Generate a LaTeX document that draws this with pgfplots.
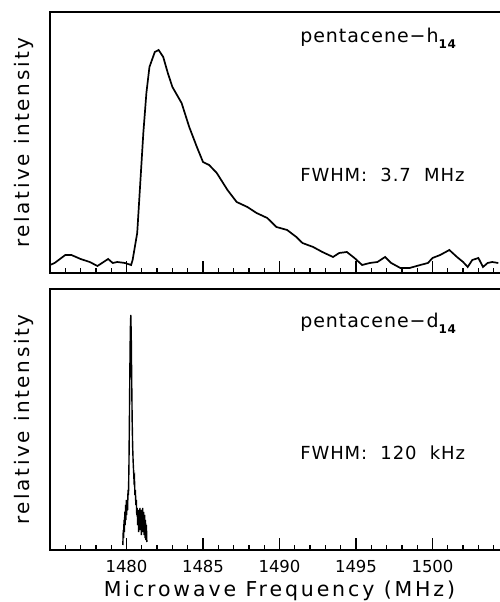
\documentclass[border=0pt]{standalone}
\usepackage{fontspec}
\setmainfont{DejaVu Sans}
\newfontfamily\spaced[LetterSpace=13]{DejaVu Sans}
\newfontfamily\spacedx[LetterSpace=14]{DejaVu Sans}
\newfontfamily\spacedb[LetterSpace=5]{DejaVu Sans}
\usepackage{pgfplots}
\usepackage{pgfplotstable}
\pgfplotsset{compat=1.18}

% top panel: pentacene-h14 (arbitrary intensity units)
\pgfplotstableread{
f I
1475.0 8
1475.3 10
1476.0 18
1476.4 18
1477.0 14
1477.6 11
1478.1 7
1478.4 10
1478.8 14
1479.1 10
1479.4 11
1479.9 10
1480.3 8
1480.4 13
1480.7 40
1480.9 90
1481.1 140
1481.3 180
1481.5 206
1481.85 221
1482.1 223
1482.4 216
1482.7 200
1483.0 186
1483.6 170
1484.1 146
1484.6 126
1485.0 111
1485.4 108
1485.9 100
1486.6 83
1487.2 71
1487.9 66
1488.5 60
1489.2 55
1489.8 46
1490.5 43
1491.1 36
1491.5 30
1492.2 26
1492.8 21
1493.5 16
1493.9 20
1494.4 21
1494.9 15
1495.4 8
1495.9 10
1496.4 11
1496.9 16
1497.3 10
1497.9 5
1498.5 5
1499.2 8
1499.7 10
1500.0 15
1500.5 18
1501.1 23
1501.6 16
1502.0 11
1502.3 6
1502.6 13
1503.0 15
1503.3 6
1503.6 10
1503.9 11
1504.3 10
}\toph

% bottom panel: pentacene-d14
\pgfplotstableread{
f I
1479.76 5
1479.79 20
1479.81 12
1479.84 30
1479.86 18
1479.89 38
1479.91 25
1479.94 45
1479.96 30
1479.99 50
1480.01 35
1480.04 48
1480.07 40
1480.10 60
1480.13 55
1480.16 85
1480.19 130
1480.22 180
1480.25 220
1480.28 235
1480.31 215
1480.34 170
1480.37 130
1480.40 105
1480.43 90
1480.46 80
1480.49 70
1480.52 72
1480.55 55
1480.58 60
1480.61 45
1480.64 50
1480.67 35
1480.70 42
1480.73 25
1480.76 40
1480.79 18
1480.82 38
1480.85 22
1480.88 42
1480.91 20
1480.94 40
1480.97 15
1481.00 35
1481.03 20
1481.06 42
1481.09 18
1481.12 38
1481.15 15
1481.18 35
1481.21 12
1481.24 30
1481.27 10
1481.30 25
1481.33 8
}\botd

\pgfplotsset{
  panel/.style={
    scale only axis, width=459pt, height=261pt,
    xmin=1475, xmax=1505, ymin=0, ymax=261,
    ytick=\empty,
    xtick={1480,1485,1490,1495,1500},
    minor xtick={1475,1476,...,1505},
    tick align=inside, xtick pos=bottom,
    major tick length=12pt, minor tick length=5pt,
    every tick/.style={black, line width=1.3pt},
    axis line style={line width=1.7pt},
    ylabel={\fontsize{20pt}{24pt}\spaced relative intensity},
    ylabel style={at={(axis description cs:-0.036,0.5)}, anchor=south, inner sep=0pt},
    /pgf/number format/assume math mode=true,
    /pgf/number format/1000 sep={},
    xticklabel style={font=\fontsize{16.5pt}{20pt}\selectfont, inner sep=0pt, yshift=-10pt},
  },
}

\begin{document}
\begin{tikzpicture}[x=1pt,y=1pt]
\path[use as bounding box] (0,0) rectangle (499,602);

\begin{axis}[panel, at={(50pt,329pt)}, anchor=south west, xticklabels={}]
\addplot[black, line width=1.7pt] table[x=f, y=I] {\toph};
\node[anchor=base west, inner sep=0pt] at (axis description cs:0.545,0.885)
  {\fontsize{19pt}{24pt}\spacedb pentacene−h\raisebox{-0.35em}{\fontsize{12pt}{14pt}\selectfont\bfseries 14}};
\node[anchor=base west, inner sep=0pt] at (axis description cs:0.545,0.349)
  {\fontsize{18pt}{24pt}\spacedb FWHM:~ 3.7~ MHz};
\end{axis}

\begin{axis}[panel, at={(50pt,52pt)}, anchor=south west,
  xlabel={\fontsize{20.5pt}{24pt}\spacedx Microwave Frequency (MHz)},
  xlabel style={at={(axis description cs:0.5,-0.18)}, anchor=base, inner sep=0pt}]
\addplot[black, line width=1.4pt] table[x=f, y=I] {\botd};
\node[anchor=base west, inner sep=0pt] at (axis description cs:0.545,0.854)
  {\fontsize{19pt}{24pt}\spacedb pentacene−d\raisebox{-0.35em}{\fontsize{12pt}{14pt}\selectfont\bfseries 14}};
\node[anchor=base west, inner sep=0pt] at (axis description cs:0.545,0.345)
  {\fontsize{18pt}{24pt}\spacedb FWHM:~ 120~ kHz};
\end{axis}
\end{tikzpicture}
\end{document}
